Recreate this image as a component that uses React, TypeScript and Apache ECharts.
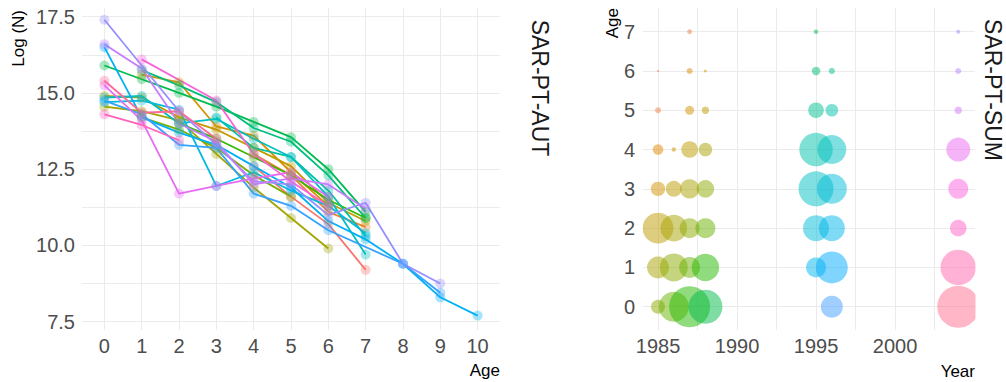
import React, { useEffect, useRef } from "react";
import * as echarts from "echarts";

// SAR-PT-AUT: log abundance by age, one polyline per cohort (oldest cohort first)
const autCohorts: [number, number][][] = [
  [[4, 12.6], [5, 11.6], [6, 10.7], [7, 9.2]],
  [[4, 13.0], [5, 12.3], [6, 11.1], [7, 10.6]],
  [[1, 15.6], [2, 15.35], [3, 13.9], [4, 13.6], [5, 12.4], [6, 11.3]],
  [[0, 14.9], [1, 14.85], [2, 14.2], [3, 13.8], [4, 13.2], [5, 12.6], [6, 11.4], [7, 10.8]],
  [[0, 14.55], [1, 14.4], [2, 14.1], [3, 13.0], [4, 11.9], [5, 10.9], [6, 9.9]],
  [[1, 14.2], [2, 13.8], [3, 13.2], [4, 12.3], [5, 11.6]],
  [[2, 14.0], [3, 13.5], [4, 12.9], [5, 12.3], [6, 11.5], [7, 10.9]],
  [[0, 15.9], [1, 15.45], [2, 15.0], [3, 14.55], [4, 14.05], [5, 13.55], [6, 12.5], [7, 11.1]],
  [[1, 15.75], [2, 15.25], [3, 14.7], [4, 13.85], [5, 13.4], [6, 12.3], [7, 10.9]],
  [[3, 14.2], [4, 13.2], [5, 12.9], [6, 11.8], [7, 10.3]],
  [[0, 14.85], [1, 14.9], [2, 14.0], [3, 14.15], [4, 13.5], [5, 12.9], [6, 11.6], [7, 9.7]],
  [[0, 14.7], [1, 14.75], [2, 14.45], [3, 11.95], [4, 12.4], [5, 11.8], [6, 11.3], [7, 10.4]],
  [[0, 16.5], [1, 14.2], [2, 13.7], [3, 13.3], [4, 12.6], [5, 11.9], [6, 10.8], [7, 10.2], [8, 9.4], [9, 8.3], [10, 7.7]],
  [[0, 14.75], [1, 14.3], [2, 13.3], [3, 13.2], [4, 11.7], [5, 11.3], [6, 10.5], [8, 9.4], [9, 8.45]],
  [[0, 17.4], [2, 14.4], [3, 13.3], [4, 12.1], [5, 12.0], [6, 11.0], [7, 11.4], [8, 9.4], [9, 8.75]],
  [[0, 16.6], [1, 15.8], [2, 14.0], [3, 13.4], [4, 12.0], [5, 12.2], [6, 12.0], [7, 11.2]],
  [[0, 15.25], [1, 14.1], [2, 11.7], [3, 11.95], [4, 12.2], [5, 12.4], [6, 11.6]],
  [[1, 16.1], [3, 14.75], [4, 13.0], [5, 12.1], [6, 11.3]],
  [[0, 14.3], [1, 13.95], [2, 13.45]],
  [[0, 15.4], [1, 14.35], [2, 14.4], [3, 13.5]],
];

const autXTicks = [0, 1, 2, 3, 4, 5, 6, 7, 8, 9, 10];
const autYGrid = [7.5, 8.75, 10, 11.25, 12.5, 13.75, 15, 16.25, 17.5];
const autYLabels = [7.5, 10, 12.5, 15, 17.5];

// SAR-PT-SUM: abundance index by survey year and age
const sumYears = [1985, 1986, 1987, 1988, 1995, 1996, 2004];
const sumAges = [0, 1, 2, 3, 4, 5, 6, 7];
const sumIndex: (number | null)[][] = [
  [49, 121, 240, 52, 28, 9, 1.5, null],
  [225, 196, 177, 64, 5, null, null, null],
  [420, 110, 100, 94, 69, 20, 9, 6],
  [289, 188, 100, 77, 46, 14, 2.2, null],
  [null, 100, 169, 306, 279, 61, 18, 5],
  [121, 256, 169, 225, 210, 40, 10, null],
  [441, 313, 69, 100, 144, 14, 9, 4],
];
const sumXGrid = [1985, 1987.5, 1990, 1992.5, 1995, 1997.5, 2000, 2002.5];
const sumXLabels = [1985, 1990, 1995, 2000];

// hcl() colour (polar CIE-Luv), as in the default discrete hue scale
function hcl(h: number, c = 100, l = 65): string {
  const hr = (h * Math.PI) / 180;
  const U = c * Math.cos(hr);
  const V = c * Math.sin(hr);
  const Xn = 95.047, Yn = 100, Zn = 108.883;
  const den = Xn + 15 * Yn + 3 * Zn;
  const un = (4 * Xn) / den;
  const vn = (9 * Yn) / den;
  const Y = Yn * (l > 8 ? Math.pow((l + 16) / 116, 3) : l / 903.3);
  const u = U / (13 * l) + un;
  const v = V / (13 * l) + vn;
  const X = (9 * Y * u) / (4 * v);
  const Z = -X / 3 - 5 * Y + (3 * Y) / v;
  const x = X / 100, y = Y / 100, z = Z / 100;
  const lin = [
    3.240479 * x - 1.53715 * y - 0.498535 * z,
    -0.969256 * x + 1.875992 * y + 0.041556 * z,
    0.055648 * x - 0.204043 * y + 1.057311 * z,
  ];
  const g = (t: number) => {
    const s = t <= 0.0031308 ? 12.92 * t : 1.055 * Math.pow(t, 1 / 2.4) - 0.055;
    return Math.round(Math.min(1, Math.max(0, s)) * 255);
  };
  return "#" + lin.map((t) => g(t).toString(16).padStart(2, "0")).join("");
}

function huePalette(n: number): string[] {
  return Array.from({ length: n }, (_, i) => hcl(15 + (360 / n) * i));
}

const FONT = "Liberation Sans";
const GRID_COLOR = "#EBEBEB";
const LABEL_COLOR = "#4D4D4D";

export default function App() {
  const ref = useRef<HTMLDivElement>(null);

  useEffect(() => {
    if (!ref.current) return;
    const chart = echarts.init(ref.current, undefined, { renderer: "svg" });

    const autColors = huePalette(autCohorts.length);
    const autSeries = autCohorts.map((pts, i) => ({
      type: "line",
      xAxisIndex: 0,
      yAxisIndex: 0,
      data: pts,
      symbol: "circle",
      symbolSize: 10,
      showAllSymbol: true,
      silent: true,
      lineStyle: { color: autColors[i], width: 1.8, opacity: 1 },
      itemStyle: { color: autColors[i], opacity: 0.35 },
      emphasis: { disabled: true },
    }));

    // cohort = year - age; one colour per cohort
    const cohorts: number[] = [];
    sumYears.forEach((yr, yi) =>
      sumAges.forEach((a, ai) => {
        if (sumIndex[yi][ai] != null) cohorts.push(yr - a);
      })
    );
    const cohortLevels = Array.from(new Set(cohorts)).sort((a, b) => a - b);
    const sumColors = huePalette(cohortLevels.length);
    const bubbles: any[] = [];
    sumYears.forEach((yr, yi) =>
      sumAges.forEach((a, ai) => {
        const v = sumIndex[yi][ai];
        if (v == null) return;
        const col = sumColors[cohortLevels.indexOf(yr - a)];
        bubbles.push({ value: [yr, a, v], itemStyle: { color: col } });
      })
    );

    const baseLabel = { color: LABEL_COLOR, fontSize: 20, fontFamily: FONT };

    chart.setOption({
      animation: false,
      backgroundColor: "#ffffff",
      textStyle: { fontFamily: FONT },
      grid: [
        { left: 82, top: 8, width: 418, height: 322 },
        { left: 643, top: 8, width: 332, height: 322 },
      ],
      xAxis: [
        {
          gridIndex: 0,
          type: "value",
          min: -0.6,
          max: 10.6,
          axisLine: { show: false },
          axisTick: { show: false, customValues: autXTicks },
          axisLabel: { ...baseLabel, margin: 6, customValues: autXTicks },
          splitLine: { show: true, lineStyle: { color: GRID_COLOR, width: 1 } },
        },
        {
          gridIndex: 1,
          type: "value",
          min: 1984.05,
          max: 2005.06,
          axisLine: { show: false },
          axisTick: { show: false, customValues: sumXGrid },
          axisLabel: {
            ...baseLabel,
            margin: 6,
            customValues: sumXLabels,
            formatter: (v: number) => String(v),
          },
          splitLine: { show: true, lineStyle: { color: GRID_COLOR, width: 1 } },
        },
      ],
      yAxis: [
        {
          gridIndex: 0,
          type: "value",
          min: 7.228,
          max: 17.785,
          axisLine: { show: false },
          axisTick: { show: false, customValues: autYGrid },
          axisLabel: {
            ...baseLabel,
            margin: 7,
            customValues: autYLabels,
            formatter: (v: number) => v.toFixed(1),
          },
          splitLine: { show: true, lineStyle: { color: GRID_COLOR, width: 1 } },
        },
        {
          gridIndex: 1,
          type: "value",
          min: -0.593,
          max: 7.603,
          axisLine: { show: false },
          axisTick: { show: false, customValues: sumAges },
          axisLabel: { ...baseLabel, margin: 8, customValues: sumAges },
          splitLine: { show: true, lineStyle: { color: GRID_COLOR, width: 1 } },
        },
      ],
      series: [
        ...autSeries,
        {
          type: "scatter",
          xAxisIndex: 1,
          yAxisIndex: 1,
          data: bubbles,
          symbol: "circle",
          symbolSize: (val: number[]) => 2 * Math.sqrt(val[2]),
          itemStyle: { opacity: 0.5 },
          silent: true,
          emphasis: { disabled: true },
        },
      ],
      graphic: [
        // keep bubbles inside the right panel
        { type: "rect", z: 100, shape: { x: 975.5, y: 0, width: 40, height: 382 }, style: { fill: "#ffffff" } },
        { type: "rect", z: 100, shape: { x: 637, y: 0, width: 5.5, height: 335 }, style: { fill: "#ffffff" } },
        {
          type: "text", z: 101, x: 18, y: 10, rotation: Math.PI / 2,
          style: { text: "Log (N)", fill: "#000000", fontSize: 17, fontFamily: FONT, align: "right", verticalAlign: "middle" },
        },
        {
          type: "text", z: 101, x: 500, y: 370,
          style: { text: "Age", fill: "#000000", fontSize: 17, fontFamily: FONT, align: "right", verticalAlign: "middle" },
        },
        {
          type: "text", z: 101, x: 540, y: 88, rotation: -Math.PI / 2,
          style: { text: "SAR-PT-AUT", fill: "#1A1A1A", fontSize: 23, fontFamily: FONT, align: "center", verticalAlign: "middle" },
        },
        {
          type: "text", z: 101, x: 612, y: 8, rotation: Math.PI / 2,
          style: { text: "Age", fill: "#000000", fontSize: 17, fontFamily: FONT, align: "right", verticalAlign: "middle" },
        },
        {
          type: "text", z: 101, x: 975, y: 371,
          style: { text: "Year", fill: "#000000", fontSize: 17, fontFamily: FONT, align: "right", verticalAlign: "middle" },
        },
        {
          type: "text", z: 101, x: 993, y: 90, rotation: -Math.PI / 2,
          style: { text: "SAR-PT-SUM", fill: "#1A1A1A", fontSize: 23, fontFamily: FONT, align: "center", verticalAlign: "middle" },
        },
      ],
    });

    return () => chart.dispose();
  }, []);

  return (
    <div
      ref={ref}
      style={{ position: "fixed", left: 0, top: 0, width: 1006, height: 382, background: "#ffffff" }}
    />
  );
}
